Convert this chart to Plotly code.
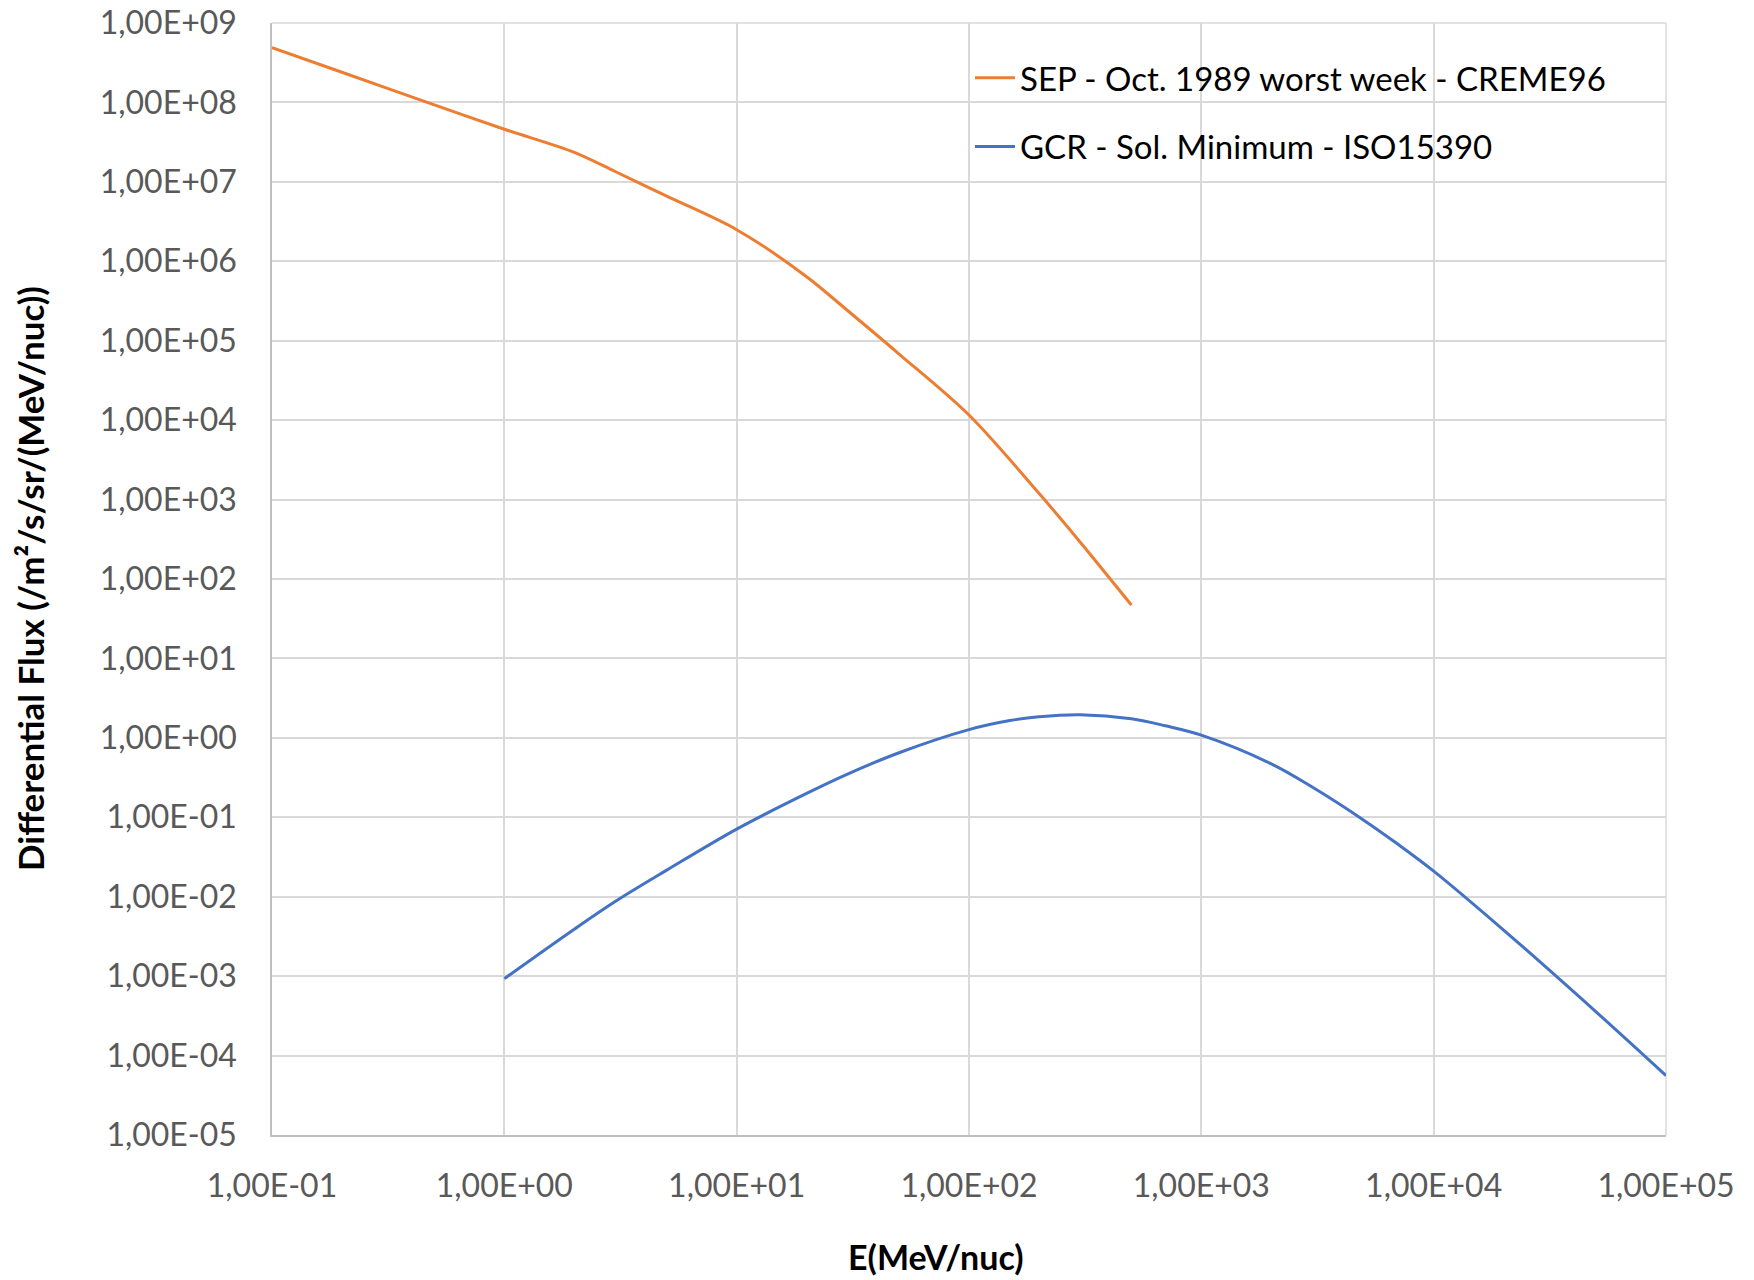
import plotly.graph_objects as go


# ── Data ──────────────────────────────────────────────────────────────────────

sep_energy = [0.1, 0.2, 0.5, 1, 2, 3, 5, 10, 20, 30, 50, 100, 200, 300, 500]
sep_flux = [4.9e8, 2.4e8, 9.3e7, 4.6e7, 2.35e7, 1.35e7, 6.6e6, 2.5e6,
            6.4e5, 2.4e5, 6.8e4, 1.16e4, 1.2e3, 2.95e2, 4.7e1]

gcr_energy = [1, 2, 3, 5, 10, 20, 30, 50, 100, 150, 200, 300, 500, 700,
              1000, 2000, 3000, 5000, 7000, 1e4, 2e4, 5e4, 1e5]
gcr_flux = [9.3e-4, 3.9e-3, 8.7e-3, 2.16e-2, 7.1e-2, 2.0e-1, 3.5e-1, 6.5e-1,
            1.27, 1.65, 1.84, 1.95, 1.74, 1.42, 1.08, 4.7e-1, 2.4e-1,
            9.2e-2, 4.6e-2, 2.1e-2, 3.8e-3, 3.55e-4, 5.6e-5]

x_tickvals = [1e-1, 1e0, 1e1, 1e2, 1e3, 1e4, 1e5]
x_ticktext = ['1,00E-01', '1,00E+00', '1,00E+01', '1,00E+02',
              '1,00E+03', '1,00E+04', '1,00E+05']
y_tickvals = [1e-5, 1e-4, 1e-3, 1e-2, 1e-1, 1e0, 1e1, 1e2,
              1e3, 1e4, 1e5, 1e6, 1e7, 1e8, 1e9]
y_ticktext = ['1,00E-05', '1,00E-04', '1,00E-03', '1,00E-02', '1,00E-01',
              '1,00E+00', '1,00E+01', '1,00E+02', '1,00E+03', '1,00E+04',
              '1,00E+05', '1,00E+06', '1,00E+07', '1,00E+08', '1,00E+09']

SEP_NAME = 'SEP - Oct. 1989 worst week - CREME96'
GCR_NAME = 'GCR - Sol. Minimum - ISO15390'

FONT = 'Lato, Calibri, Arial, sans-serif'
GRID = '#d9d9d9'


# ── Figure ────────────────────────────────────────────────────────────────────

fig = go.Figure()
fig.add_trace(go.Scatter(
    x=sep_energy, y=sep_flux, mode='lines', name=SEP_NAME,
    legendgroup='sep',
    line=dict(color='#ED7D31', width=3, shape='spline', smoothing=0.9)
))
fig.add_trace(go.Scatter(
    x=gcr_energy, y=gcr_flux, mode='lines', name=GCR_NAME,
    legendgroup='gcr',
    line=dict(color='#4472C4', width=3, shape='spline', smoothing=1.0)
))

fig.update_xaxes(
    type='log', range=[-1, 5],
    tickvals=x_tickvals, ticktext=x_ticktext,
    showgrid=True, gridcolor=GRID, gridwidth=1.5,
    showline=True, linecolor='#bfbfbf', linewidth=1.5,
    ticks='', ticklabelstandoff=22, automargin=False,
    ticklabeloverflow='allow',
    tickfont=dict(family=FONT, size=32, color='#595959'),
    zeroline=False
)
fig.update_yaxes(
    type='log', range=[-5, 9],
    tickvals=y_tickvals, ticktext=y_ticktext,
    showgrid=True, gridcolor=GRID, gridwidth=1.5,
    showline=True, linecolor='#bfbfbf', linewidth=1.5,
    ticks='', ticklabelstandoff=27, automargin=False,
    ticklabeloverflow='allow',
    tickfont=dict(family=FONT, size=32, color='#595959'),
    zeroline=False
)

# right and top border are gridlines in the reference
fig.add_shape(type='line', xref='paper', yref='paper', x0=1, x1=1, y0=0, y1=1,
              line=dict(color=GRID, width=1.5), layer='below')
fig.add_shape(type='line', xref='paper', yref='paper', x0=0, x1=1, y0=1, y1=1,
              line=dict(color=GRID, width=1.5), layer='below')

# white legend box hiding the grid behind it
fig.add_shape(type='rect', xref='paper', yref='paper',
              x0=0.473, x1=0.983, y0=0.850, y1=0.977,
              fillcolor='white', line=dict(width=0), layer='between')

fig.add_annotation(text='<b>E(MeV/nuc)</b>', xref='paper', yref='paper',
                   x=0.4763, y=-0.1093, xanchor='center', yanchor='middle',
                   showarrow=False,
                   font=dict(family=FONT, size=34, color='#000000'))
fig.add_annotation(text='<b>Differential Flux (/m²/s/sr/(MeV/nuc))</b>',
                   xref='paper', yref='paper', x=-0.1736, y=0.5,
                   xanchor='center', yanchor='middle',
                   textangle=-90, showarrow=False,
                   font=dict(family=FONT, size=35, color='#000000'))

fig.update_layout(
    width=1754, height=1280,
    margin=dict(l=272, r=88, t=23, b=145),
    plot_bgcolor='white', paper_bgcolor='white',
    showlegend=True,
    legend=dict(
        x=0.5007, y=0.976, xanchor='left', yanchor='top',
        bgcolor='rgba(0,0,0,0)', borderwidth=0,
        font=dict(family=FONT, size=33, color='#000000'),
        tracegroupgap=23, traceorder='grouped',
        itemwidth=40
    )
)

# drop the browser's default page margin so the figure sits at the corner
fig.write_html("out.html",
               config={'displayModeBar': False},
               post_script="document.body.style.margin = '0';")
